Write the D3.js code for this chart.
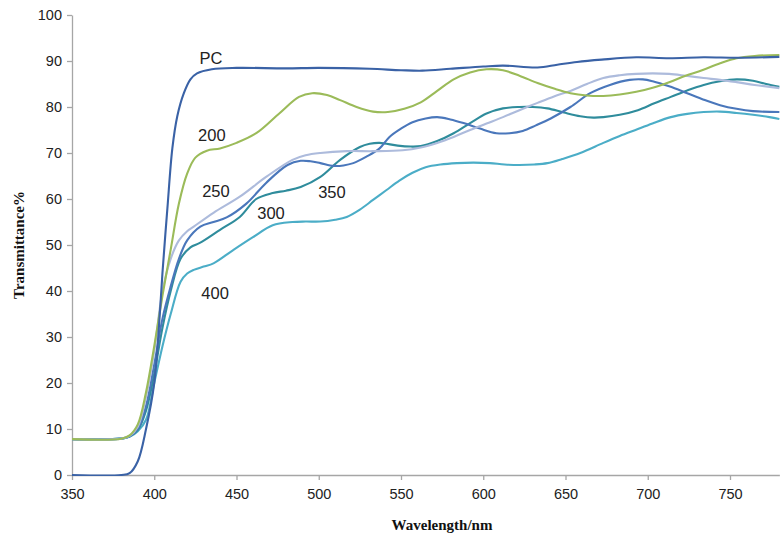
<!DOCTYPE html>
<html>
<head>
<meta charset="utf-8">
<script src="https://cdn.jsdelivr.net/npm/d3@7"></script>
<style>
  body { margin: 0; background: #fff; }
  svg { display: block; }
</style>
</head>
<body>
<div id="chart"></div>
<script>
// Transmittance spectra, [wavelength nm, transmittance %]
const seriesNames = ['PC', '200', '250', '300', '350', '400'];

const pcData = [[350,0],[380,0],[385,0.4],[390,3],[395,10],[400,20],[403,33],[405,44],[408,58],[411,71],
  [414,78],[418,83],[422,86],[426,87.3],[435,88.2],[450,88.5],[480,88.4],[500,88.5],[531,88.3],[550,88],
  [563,87.9],[580,88.3],[600,88.8],[612,89],[633,88.6],[645,89.2],[657,89.8],[672,90.3],[693,90.8],
  [713,90.6],[734,90.8],[755,90.7],[780,90.9]];

const s200 = [[350,7.8],[380,7.9],[385,8.6],[390,11],[395,18],[400,28],[405,39],[410,49],[415,59],[420,65.5],
  [425,69],[432,70.5],[440,71],[450,72.2],[462,74.3],[476,78.6],[488,82.2],[496,83],[505,82.6],[513,81.5],
  [523,80],[533,79],[542,78.9],[552,79.6],[562,81],[572,83.5],[582,86],[592,87.5],[602,88.2],[612,88],
  [622,86.8],[633,85.2],[643,84],[653,83],[663,82.5],[673,82.4],[683,82.7],[693,83.3],[703,84.2],
  [713,85.4],[723,86.8],[733,88],[744,89.5],[754,90.6],[765,91.1],[780,91.3]];

const s250 = [[350,7.8],[380,7.9],[385,8.5],[390,10.5],[395,17],[400,27],[405,40],[410,47],[415,51],[420,53],
  [424,54],[436,57],[452,60.5],[468,64.8],[484,68.5],[492,69.5],[501,70],[517,70.4],[533,70.4],[551,70.6],
  [562,71.2],[572,72.2],[582,73.5],[592,75],[602,76.4],[612,77.8],[622,79.3],[633,80.9],[643,82.3],
  [653,83.5],[663,85],[673,86.3],[683,86.9],[693,87.2],[703,87.3],[713,87.2],[723,86.8],[734,86.3],
  [744,85.9],[754,85.4],[765,84.8],[780,84.1]];

const s300 = [[350,7.8],[380,7.9],[385,8.4],[390,10],[395,15],[400,24],[405,34],[410,41],[415,47],[420,51],
  [428,54],[436,55],[444,56],[456,59],[468,63.5],[481,67.4],[489,68.3],[495,68.2],[501,67.8],[509,67.2],
  [515,67.3],[521,67.8],[529,69.2],[537,71],[543,73.5],[550,75.3],[557,76.7],[565,77.5],[572,77.8],
  [580,77.3],[588,76.5],[598,75.3],[608,74.3],[616,74.3],[624,74.8],[632,76],[641,77.5],[653,80],
  [665,83],[677,84.8],[689,85.9],[697,86],[703,85.6],[713,84.5],[724,83],[734,81.6],[744,80.4],
  [754,79.6],[764,79.1],[780,78.9]];

const s350 = [[350,7.8],[380,7.9],[385,8.4],[390,9.8],[395,14],[400,22],[405,32],[410,40],[416,47],[422,49.5],
  [428,50.5],[440,53.3],[452,56.1],[462,60],[472,61.3],[480,61.8],[489,62.6],[501,64.8],[513,68.5],
  [525,71.3],[531,72],[537,72.2],[548,71.6],[556,71.4],[562,71.5],[572,72.6],[582,74.3],[592,76.5],
  [602,78.6],[612,79.7],[622,80],[630,80],[639,79.7],[649,78.8],[659,78],[667,77.7],[673,77.8],
  [683,78.3],[694,79.3],[704,80.8],[714,82.2],[724,83.6],[734,84.8],[744,85.6],[754,86],[764,85.7],
  [772,85],[780,84.4]];

const s400 = [[350,7.8],[380,7.9],[385,8.3],[390,9.5],[395,12],[400,20],[405,28],[410,35],[416,42],[420,43.8],
  [424,44.6],[430,45.3],[436,46],[448,48.9],[460,51.7],[472,54.3],[484,55],[492,55.1],[501,55.1],
  [510,55.5],[517,56.1],[525,57.7],[533,59.8],[541,61.9],[549,64],[557,65.7],[565,66.9],[574,67.5],
  [584,67.8],[594,67.9],[604,67.8],[613,67.5],[622,67.4],[631,67.5],[639,67.8],[648,68.7],[659,70],
  [673,72.2],[683,73.7],[694,75.2],[704,76.6],[714,77.8],[724,78.5],[734,78.9],[744,79],[754,78.7],
  [764,78.3],[774,77.8],[780,77.4]];

const seriesData = [pcData, s200, s250, s300, s350, s400];
const seriesColors = ['#3a62a6', '#9bbb59', '#adbbdc', '#4a77bb', '#2f8c9c', '#4badc7'];

// where the curve labels sit (baseline), [wavelength, transmittance]
const labelPos = [[434.5, 89.3], [435, 72.6], [437.5, 60.4], [471, 55.7], [508, 60.2], [437, 38.3]];

const xTicks = d3.range(350, 751, 50);
const yTicks = d3.range(0, 101, 10);

const width = 780, height = 538;
const margin = {left: 72, top: 15, bottom: 63};

const x = d3.scaleLinear().domain([350, 780]).range([margin.left, margin.left + 430 * 1.645]);
const y = d3.scaleLinear().domain([0, 100]).range([height - margin.bottom, margin.top]);

const svg = d3.select('#chart').append('svg')
  .attr('width', width)
  .attr('height', height);

svg.append('defs').append('clipPath').attr('id', 'plotClip')
  .append('rect')
    .attr('x', margin.left).attr('y', 0)
    .attr('width', width - margin.left).attr('height', y(0) + 1);

// Axes
const tickFont = '"Liberation Sans", Arial, sans-serif';

const xAxis = svg.append('g')
  .attr('transform', `translate(0,${y(0)})`)
  .call(d3.axisBottom(x).tickValues(xTicks).tickSize(5).tickSizeOuter(0).tickPadding(9));
const yAxis = svg.append('g')
  .attr('transform', `translate(${margin.left},0)`)
  .call(d3.axisLeft(y).tickValues(yTicks).tickSize(5).tickSizeOuter(0).tickPadding(5));

[xAxis, yAxis].forEach(function(ax) {
  ax.select('.domain').attr('stroke', '#a6a6a6').attr('stroke-width', 1.3);
  ax.selectAll('.tick line').attr('stroke', '#a6a6a6').attr('stroke-width', 1.3);
  ax.selectAll('.tick text')
    .attr('fill', '#222')
    .style('font-family', tickFont)
    .style('font-size', '14.5px');
});

// Curves
const line = d3.line()
  .x(d => x(d[0]))
  .y(d => y(d[1]))
  .curve(d3.curveCatmullRom.alpha(0.5));

// draw PC last so it sits on top like in the original
const drawOrder = [5, 4, 3, 2, 1, 0];
svg.append('g').attr('clip-path', 'url(#plotClip)')
  .selectAll('path')
  .data(drawOrder)
  .join('path')
    .attr('d', i => line(seriesData[i]))
    .attr('fill', 'none')
    .attr('stroke', i => seriesColors[i])
    .attr('stroke-width', 2.1)
    .attr('stroke-linejoin', 'round');

// Curve labels
svg.append('g').selectAll('text')
  .data(seriesNames)
  .join('text')
    .attr('x', (d, i) => x(labelPos[i][0]))
    .attr('y', (d, i) => y(labelPos[i][1]))
    .attr('text-anchor', 'middle')
    .attr('fill', '#222')
    .style('font-family', tickFont)
    .style('font-size', '16.5px')
    .text(d => d);

// Axis titles
svg.append('text')
  .attr('x', 442)
  .attr('y', 530)
  .attr('text-anchor', 'middle')
  .style('font-family', '"Liberation Serif", "Times New Roman", serif')
  .style('font-weight', 'bold')
  .style('font-size', '15px')
  .attr('fill', '#111')
  .text('Wavelength/nm');

svg.append('text')
  .attr('transform', 'translate(24,245) rotate(-90)')
  .attr('text-anchor', 'middle')
  .style('font-family', '"Liberation Serif", "Times New Roman", serif')
  .style('font-weight', 'bold')
  .style('font-size', '15px')
  .attr('fill', '#111')
  .text('Transmittance%');
</script>
</body>
</html>
